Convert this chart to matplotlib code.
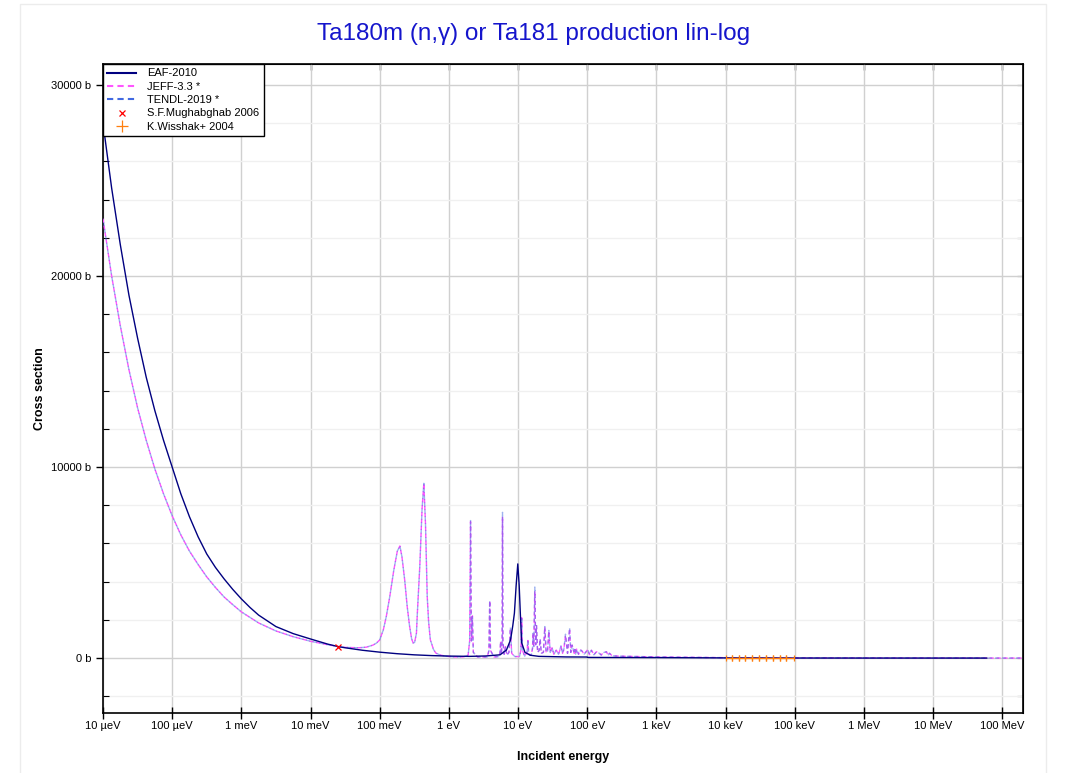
import numpy as np
import matplotlib.pyplot as plt
from matplotlib.patches import Rectangle
from matplotlib.ticker import FixedLocator, MultipleLocator, FuncFormatter, NullFormatter

plt.rcParams['font.family'] = ['Liberation Sans', 'DejaVu Sans']

# ---- data (energies in eV, cross sections in barns) ----
eaf_energy = [1e-5, 1.334e-5, 1.778e-5, 2.371e-5, 3.162e-5, 4.217e-5, 5.623e-5, 7.499e-5,
              1e-4, 1.334e-4, 1.778e-4, 2.371e-4, 3.162e-4, 4.217e-4, 5.623e-4, 7.499e-4,
              1e-3, 1.334e-3, 1.778e-3, 2.371e-3, 3.162e-3, 5.623e-3, 1e-2, 1.778e-2,
              2.53e-2, 3.162e-2, 5.623e-2, 0.1, 0.178, 0.316, 0.562, 1.0, 2.0, 3.4, 5.5, 6.8,
              7.8, 8.4, 8.87, 9.4, 9.93, 10.4, 10.8, 11.3, 12.6, 15, 20, 50, 100, 101,
              1e3, 1e4, 1e5, 1e6, 1e7, 6e7]
eaf_xs = [28000, 24600, 21650, 19000, 16750, 14700, 12950, 11400,
          10000, 8600, 7400, 6350, 5450, 4750, 4150, 3600,
          3100, 2650, 2250, 1950, 1650, 1280, 1000, 730,
          600, 540, 410, 310, 230, 170, 130, 105, 90, 110, 170, 420,
          950, 1690, 2350, 3800, 4930, 3800, 2350, 800, 300, 150, 90, 60, 55, 35,
          25, 10, 3, 1, 0.5, 0.2]

res_energy = [1e-5, 1.334e-5, 1.778e-5, 2.371e-5, 3.162e-5, 4.217e-5, 5.623e-5, 7.499e-5,
              1e-4, 1.334e-4, 1.778e-4, 2.371e-4, 3.162e-4, 4.217e-4, 5.623e-4, 7.499e-4,
              1e-3, 1.778e-3, 3.162e-3, 5.623e-3, 1e-2, 1.778e-2, 2.53e-2, 3.162e-2,
              0.05, 0.064, 0.08, 0.09,
              0.10, 0.113, 0.125, 0.14, 0.16, 0.18, 0.196, 0.21, 0.23, 0.25,
              0.27, 0.29, 0.305, 0.32, 0.34, 0.35, 0.38, 0.41, 0.435, 0.46,
              0.487, 0.51, 0.54, 0.6, 0.65, 0.75, 0.9, 1.2, 1.6, 1.9,
              2.0, 2.06, 2.12, 2.19, 2.26, 2.6, 3.6, 3.8, 3.9, 4.0,
              4.5, 5.3, 5.5, 5.6, 5.75, 5.9, 5.97, 6.05, 6.3, 6.6,
              6.9, 7.4, 7.77, 8.1, 9.0, 10.5, 11.0, 11.3, 11.6, 12.5,
              13.5, 13.9, 14.3, 15.5, 16.2, 16.5, 16.9, 17.5, 18.0, 18.5,
              19.2, 20.2, 20.9, 21.7, 23.3, 24.4, 25.5, 26.7, 27.9, 29.2,
              31.1, 33, 35.8, 38.5, 41.9, 44, 46, 48.6, 52, 55.7,
              58, 60.6, 65, 66.5, 68, 70.4, 75, 80.9, 85, 90,
              95, 102, 108, 115, 120, 125, 136, 150, 160, 170,
              190, 200, 210, 230, 300, 1e3, 1e4, 1e5, 1e6, 1e7,
              1e8, 2e8]
jeff_xs = [23000, 20000, 17400, 15100, 13100, 11400, 9900, 8600,
           7450, 6450, 5600, 4900, 4250, 3700, 3200, 2800,
           2420, 1840, 1420, 1120, 880, 700, 600, 560,
           540, 570, 680, 785,
           950, 1480, 2200, 3220, 4600, 5600, 5870, 5300, 4090, 2700,
           1700, 1000, 790, 820, 1300, 2300, 4790, 7800, 9150, 7000,
           3220, 1900, 960, 450, 260, 160, 100, 60, 60, 150,
           900, 7140, 900, 2210, 300, 60, 60, 400, 3000, 400,
           60, 80, 300, 870, 200, 900, 7400, 900, 200, 600,
           150, 300, 1540, 250, 80, 80, 400, 2110, 400, 100,
           300, 920, 200, 150, 500, 1300, 600, 3500, 700, 1700,
           300, 400, 1000, 250, 300, 1620, 300, 350, 1410, 300,
           540, 200, 420, 200, 600, 250, 450, 1190, 250, 1540,
           300, 680, 250, 450, 200, 470, 200, 420, 350, 200,
           300, 450, 180, 410, 300, 170, 330, 250, 160, 280,
           330, 150, 250, 120, 100, 60, 20, 8, 3, 1,
           0.5, 0.3]
tendl_xs = [23000, 20000, 17400, 15100, 13100, 11400, 9900, 8600,
            7450, 6450, 5600, 4900, 4250, 3700, 3200, 2800,
            2420, 1840, 1420, 1120, 880, 700, 600, 560,
            540, 570, 680, 785,
            950, 1480, 2200, 3220, 4600, 5600, 5870, 5300, 4090, 2700,
            1700, 1000, 790, 820, 1300, 2300, 4790, 7800, 9150, 7000,
            3220, 1900, 960, 450, 260, 160, 100, 60, 60, 150,
            900, 7200, 900, 2210, 300, 60, 60, 400, 3000, 400,
            60, 80, 300, 870, 200, 900, 7630, 900, 200, 600,
            150, 300, 1600, 250, 80, 80, 400, 2150, 400, 100,
            300, 950, 200, 150, 500, 1300, 600, 3720, 700, 1700,
            300, 400, 1000, 250, 300, 1650, 300, 350, 1450, 300,
            540, 200, 420, 200, 650, 250, 450, 1250, 250, 1580,
            300, 680, 250, 450, 200, 470, 200, 420, 350, 200,
            300, 450, 180, 410, 300, 170, 330, 250, 160, 280,
            330, 150, 250, 120, 100, 60, 20, 8, 3, 1,
            0.5, 0.3]

mugh_energy = [0.0253]
mugh_xs = [575]

wiss_lo = [1.0e4, 1.25e4, 1.55e4, 1.93e4, 2.41e4, 3.07e4, 3.91e4, 4.87e4, 6.07e4, 7.57e4]
wiss_hi = [1.25e4, 1.55e4, 1.93e4, 2.41e4, 3.07e4, 3.91e4, 4.87e4, 6.07e4, 7.57e4, 9.9e4]
wiss_xs = [4.0, 3.4, 2.9, 2.5, 2.1, 1.8, 1.6, 1.4, 1.2, 1.0]

tick_pos = [1e-5, 1e-4, 1e-3, 1e-2, 1e-1, 1, 10, 100, 1e3, 1e4, 1e5, 1e6, 1e7, 1e8]
tick_lab = ['10 µeV', '100 µeV', '1 meV', '10 meV', '100 meV', '1 eV', '10 eV',
            '100 eV', '1 keV', '10 keV', '100 keV', '1 MeV', '10 MeV', '100 MeV']

# ---- figure ----
fig = plt.figure(figsize=(10.67, 7.73), dpi=100)
ax = fig.add_axes([103 / 1067, 1 - 713 / 773, 920 / 1067, 649 / 773])

fig.patches.append(Rectangle((20 / 1067, -0.01), 1026 / 1067, 1 - 4 / 773 + 0.01,
                             transform=fig.transFigure, fill=False,
                             edgecolor='#ececec', linewidth=1))

ax.plot(eaf_energy, eaf_xs, color='#000080', linewidth=1.0, label='EAF-2010', zorder=5)
ax.plot(res_energy, jeff_xs, color='#ff55ff', linewidth=1.0, linestyle=(0, (3, 2)),
        label='JEFF-3.3 *', zorder=3)
ax.plot(res_energy, tendl_xs, color='#4169e1', linewidth=1.0, linestyle=(2.5, (3, 2)),
        alpha=0.5, zorder=4)
ax.plot([], [], color='#4169e1', linewidth=1.0, linestyle=(0, (3, 2)), label='TENDL-2019 *')
ax.plot(mugh_energy, mugh_xs, linestyle='none', marker='x', color='red', markersize=5,
        markeredgewidth=0.9, label='S.F.Mughabghab 2006', zorder=6)

wc = np.sqrt(np.array(wiss_lo) * np.array(wiss_hi))
werr = [wc - np.array(wiss_lo), np.array(wiss_hi) - wc]
ax.errorbar(wc, wiss_xs, xerr=werr, fmt='none', ecolor='#ff7f0e',
            elinewidth=1, capsize=2, capthick=0.9, zorder=7)
ax.plot([], [], linestyle='none', marker='+', color='#ff7f0e', markersize=9,
        markeredgewidth=0.9, label='K.Wisshak+ 2004')

ax.set_xscale('log')
ax.set_xlim(1e-5, 2e8)
ax.set_ylim(-2875, 31100)

ax.set_xticks(tick_pos)
ax.set_xticklabels(tick_lab)
ax.xaxis.set_minor_locator(FixedLocator([]))
ax.yaxis.set_major_locator(MultipleLocator(10000))
ax.yaxis.set_minor_locator(MultipleLocator(2000))
ax.yaxis.set_major_formatter(FuncFormatter(lambda v, p: '%d b' % v))

ax.grid(True, which='major', color='#d0d0d0', linewidth=1)
ax.grid(True, which='minor', axis='y', color='#f0f0f0', linewidth=1)
ax.set_axisbelow(True)

ax.tick_params(axis='x', which='major', direction='inout', length=9, width=1,
               top=False, labelsize=8, pad=1)
ax.tick_params(axis='y', which='major', direction='out', length=5, width=1,
               right=False, labelsize=8)
ax.tick_params(axis='y', which='minor', direction='in', length=4, width=0.8, right=False)
for s in ax.spines.values():
    s.set_linewidth(1.2)

# inward ticks on the top and right frame
top = ax.secondary_xaxis('top')
top.set_xticks(tick_pos)
top.xaxis.set_minor_locator(FixedLocator([]))
top.xaxis.set_major_formatter(NullFormatter())
top.tick_params(direction='in', length=4, width=1)
right = ax.secondary_yaxis('right')
right.yaxis.set_major_locator(MultipleLocator(10000))
right.yaxis.set_minor_locator(MultipleLocator(2000))
right.yaxis.set_major_formatter(NullFormatter())
right.tick_params(which='both', direction='in', length=4, width=0.8)

ax.set_xlabel('Incident energy', fontsize=9, fontweight='bold', labelpad=15)
ax.set_ylabel('Cross section', fontsize=9, fontweight='bold', labelpad=4)
fig.text(0.5, 1 - 34 / 773, 'Ta180m (n,γ) or Ta181 production lin-log', color='#1515cc',
         fontsize=17.5, ha='center', va='center')

leg = ax.legend(loc='upper left', borderaxespad=0, fontsize=8, fancybox=False,
                framealpha=1, edgecolor='black', handlelength=2.6,
                handletextpad=1.0, labelspacing=0.3, borderpad=0.4)
leg.get_frame().set_linewidth(1)
for ln in leg.get_lines():
    ln.set_linewidth(1.5)

fig.savefig('out.png', dpi=100)
